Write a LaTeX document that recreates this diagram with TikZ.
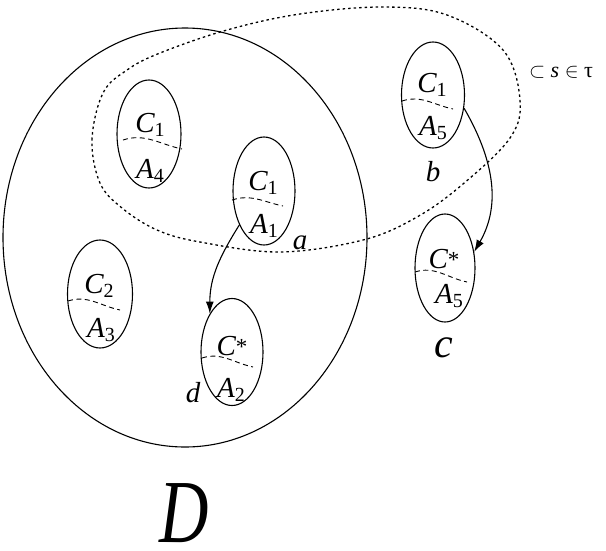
\documentclass[tikz,border=0pt]{standalone}
\usepackage{fontspec}
\setmainfont{Liberation Serif}
\newfontfamily\tms{Liberation Serif}
\usetikzlibrary{shapes.geometric,arrows.meta}
\newcommand\subx[1]{\raisebox{-4pt}{\fontsize{20}{20}\selectfont\tms\upshape #1}}
\newcommand\astx{\raisebox{1pt}{\fontsize{23}{23}\selectfont\tms\upshape *}}
\newcommand\dl[5]{\draw[dsh] ([shift={(#2,#3)}]#1.center) to[out=18,in=168] ([shift={(#4,#5)}]#1.center);}
\tikzset{
  ell/.style={draw, ellipse, inner sep=0pt, line width=1.1pt},
  dsh/.style={line width=0.9pt, dash pattern=on 5pt off 3.5pt},
  dotl/.style={line width=1.3pt, dash pattern=on 2.5pt off 3pt},
  arr/.style={-{Latex[length=12pt,width=8pt]}, line width=1.1pt},
  lbl/.style={anchor=base, inner sep=0pt, font=\tms\itshape\fontsize{29}{31}\selectfont},
}
\begin{document}
\begin{tikzpicture}[x=1pt,y=1pt]
\useasboundingbox (0,0) rectangle (606,-550);
% big set D
\node[ell, minimum width=364pt, minimum height=419pt] (bigD) at (185,-237.5) {};
% dotted region
\draw[dotl] plot[smooth cycle, tension=0.6] coordinates {
 (100,-183) (92,-140) (103,-93) (127,-70) (160,-53) (227,-30) (300,-14)
 (383,-7) (447,-15) (503,-50) (520,-100) (510,-138) (463,-184) (417,-217)
 (363,-240) (280,-252) (200,-242) (157,-230) (122,-208)};
% small ellipses
\node[ell, minimum width=64pt, minimum height=108pt] (e4) at (149,-134) {};
\node[ell, minimum width=62pt, minimum height=108pt] (e1) at (264,-191) {};
\node[ell, minimum width=63pt, minimum height=106pt] (e5) at (433,-95) {};
\node[ell, minimum width=65pt, minimum height=108pt] (e3) at (100,-294) {};
\node[ell, minimum width=62pt, minimum height=107pt] (e2) at (232,-352) {};
\node[ell, minimum width=60pt, minimum height=108pt] (e6) at (445,-268) {};
% dashed separators
\dl{e4}{-26}{-6}{33}{-15}
\dl{e1}{-32}{-9}{19}{-15}
\dl{e5}{-31}{-6}{20}{-14}
\dl{e3}{-32}{-7}{20}{-16}
\dl{e2}{-30}{-6}{21}{-15}
\dl{e6}{-30}{-4}{22}{-14}
% inner labels
\node[lbl] (c4) at (150,-132) {C\subx{1}};
\node[lbl] (a4) at (150,-178) {A\subx{4}};
\node[lbl] (c1) at (263,-190) {C\subx{1}};
\node[lbl] (a1) at (264,-233) {A\subx{1}};
\node[lbl] (c5) at (432,-92) {C\subx{1}};
\node[lbl] (a5) at (433,-135) {A\subx{5}};
\node[lbl] (c3) at (99,-293) {C\subx{2}};
\node[lbl] (a3) at (101,-337) {A\subx{3}};
\node[lbl] (c2) at (232,-355) {C\astx};
\node[lbl] (a2) at (231,-397) {A\subx{2}};
\node[lbl] (c6) at (444,-268) {C\astx};
\node[lbl] (a6) at (449,-303) {A\subx{5}};
% letters
\node[lbl] (la) at (300,-249) {a};
\node[lbl] (lb) at (433,-181) {b};
\node[lbl, font=\tms\itshape\fontsize{42}{44}\selectfont] (lc) at (444,-357) {c};
\node[lbl, font=\tms\itshape\fontsize{90}{92}\selectfont] (labD) at (184,-542) {\scalebox{0.76}[1]{D}};
\node[lbl] (ld) at (193,-402) {d};
\node[anchor=base, inner sep=0pt, font=\tms\fontsize{22}{24}\selectfont] (tau) at (561,-77) {$\subset$ \textit{s} $\in$ τ};
% arrows
\draw[arr] (e1.234) to[out=238,in=90] (e2.120);
\draw[arr] (e5.337) to[out=300,in=60] (e6.29);
\end{tikzpicture}
\end{document}
